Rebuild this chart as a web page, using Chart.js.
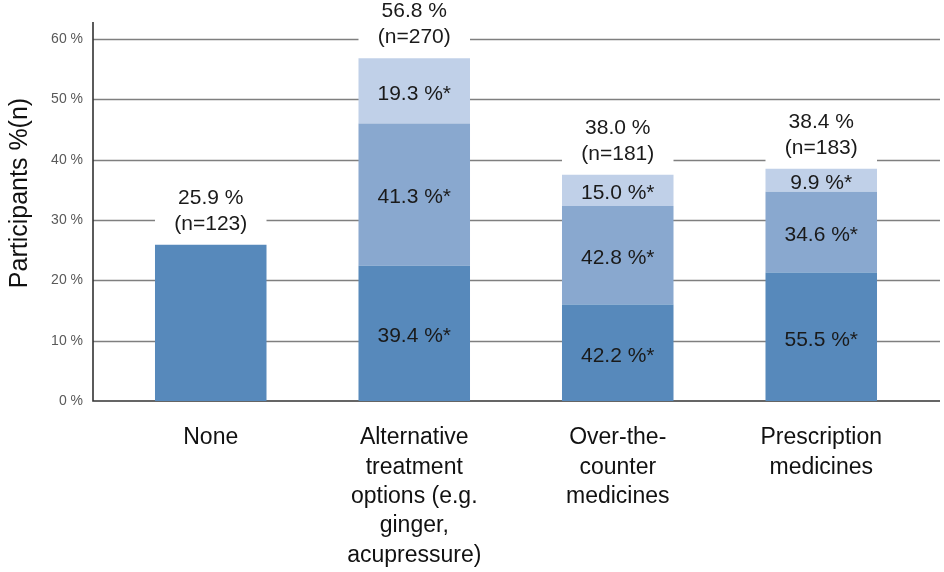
<!DOCTYPE html>
<html>
<head>
<meta charset="utf-8">
<script src="https://cdn.jsdelivr.net/npm/chart.js@4.4.1/dist/chart.umd.min.js"></script>
<style>
  html, body { margin: 0; padding: 0; background: #fff; }
  #wrap { width: 944px; height: 572px; }
</style>
</head>
<body>
<div id="wrap"><canvas id="treatmentChart"></canvas></div>
<script>
// categories (multi-line tick labels)
const categories = [
    ['None'],
    ['Alternative', 'treatment', 'options (e.g.', 'ginger,', 'acupressure)'],
    ['Over-the-', 'counter', 'medicines'],
    ['Prescription', 'medicines']
];

// stacked segment heights, % of all participants
const lowerPart = [25.9, 22.4, 16.0, 21.3];
const middlePart = [0, 23.6, 16.3, 13.4];
const upperPart = [0, 10.8, 5.2, 3.8];

// share labels printed inside the segments
const lowerShare = ['', '39.4', '42.2', '55.5'];
const middleShare = ['', '41.3', '42.8', '34.6'];
const upperShare = ['', '19.3', '15.0', '9.9'];

// totals above the bars
const totals = ['25.9', '56.8', '38.0', '38.4'];
const counts = [123, 270, 181, 183];

const yTicks = [0, 10, 20, 30, 40, 50, 60];

const shares = [lowerShare, middleShare, upperShare];
const labelFont = '21px "Liberation Sans", Arial, sans-serif';

const framePlugin = {
    id: 'frame',
    beforeDatasetsDraw(chart) {
        const ctx = chart.ctx;
        const a = chart.chartArea;
        const y = chart.scales.y;
        const l = a.left - 16;
        const r = a.right + 17;
        ctx.save();
        ctx.strokeStyle = '#7f7f7f';
        ctx.lineWidth = 1.4;
        yTicks.forEach(function (v) {
            if (v === 0) return;
            const py = Math.round(y.getPixelForValue(v)) + 0.5;
            ctx.beginPath();
            ctx.moveTo(l, py);
            ctx.lineTo(r, py);
            ctx.stroke();
        });
        ctx.strokeStyle = '#333';
        ctx.lineWidth = 1.6;
        ctx.beginPath();
        ctx.moveTo(l, a.top - 17);
        ctx.lineTo(l, a.bottom);
        ctx.lineTo(r, a.bottom);
        ctx.stroke();

        // axis title
        ctx.translate(20, a.top + 154);
        ctx.rotate(-Math.PI / 2);
        ctx.fillStyle = '#111';
        ctx.font = '25px "Liberation Sans", Arial, sans-serif';
        ctx.textAlign = 'center';
        ctx.textBaseline = 'middle';
        ctx.fillText('Participants %(n)', 0, 0);
        ctx.restore();
    },
    afterDatasetsDraw(chart) {
        const ctx = chart.ctx;
        ctx.save();
        ctx.font = labelFont;
        ctx.fillStyle = '#1a1a1a';
        ctx.textAlign = 'center';
        ctx.textBaseline = 'middle';

        // labels inside segments
        shares.forEach(function (list, di) {
            const meta = chart.getDatasetMeta(di);
            meta.data.forEach(function (bar, i) {
                if (!list[i]) return;
                ctx.fillText(list[i] + ' %*', bar.x, (bar.y + bar.base) / 2 + 3);
            });
        });

        // totals above bars, on a white box over the grid
        const top = chart.getDatasetMeta(2);
        top.data.forEach(function (bar, i) {
            const w = bar.width;
            ctx.fillStyle = '#fff';
            ctx.fillRect(bar.x - w / 2, bar.y - 62, w, 61);
            ctx.fillStyle = '#1a1a1a';
            ctx.fillText(totals[i] + ' %', bar.x, bar.y - 47);
            ctx.fillText('(n=' + counts[i] + ')', bar.x, bar.y - 21);
        });
        ctx.restore();
    }
};

const ctx = document.getElementById('treatmentChart').getContext('2d');
new Chart(ctx, {
    type: 'bar',
    data: {
        labels: categories,
        datasets: [
            { data: lowerPart, backgroundColor: '#5789bb' },
            { data: middlePart, backgroundColor: '#89a8cf' },
            { data: upperPart, backgroundColor: '#c0d0e8' }
        ]
    },
    options: {
        responsive: true,
        maintainAspectRatio: false,
        animation: false,
        layout: { padding: { top: 39, right: 21, left: 0, bottom: 0 } },
        datasets: {
            bar: { categoryPercentage: 0.548, barPercentage: 1, borderWidth: 0 }
        },
        plugins: {
            legend: { display: false },
            tooltip: { enabled: false }
        },
        scales: {
            x: {
                stacked: true,
                grid: { display: false, drawTicks: false },
                border: { display: false },
                ticks: {
                    autoSkip: false,
                    maxRotation: 0,
                    padding: 22,
                    color: '#111',
                    font: { family: '"Liberation Sans", Arial, sans-serif', size: 23, lineHeight: 1.28 }
                },
                afterFit: function (scale) { scale.height = 171; }
            },
            y: {
                stacked: true,
                min: 0,
                max: 60,
                grid: { display: false, drawTicks: false },
                border: { display: false },
                ticks: {
                    stepSize: 10,
                    padding: 26,
                    color: '#595959',
                    font: { family: '"Liberation Sans", Arial, sans-serif', size: 14 },
                    callback: function (v) { return v + ' %'; }
                },
                afterFit: function (scale) { scale.width = 109; }
            }
        }
    },
    plugins: [framePlugin]
});
</script>
</body>
</html>
